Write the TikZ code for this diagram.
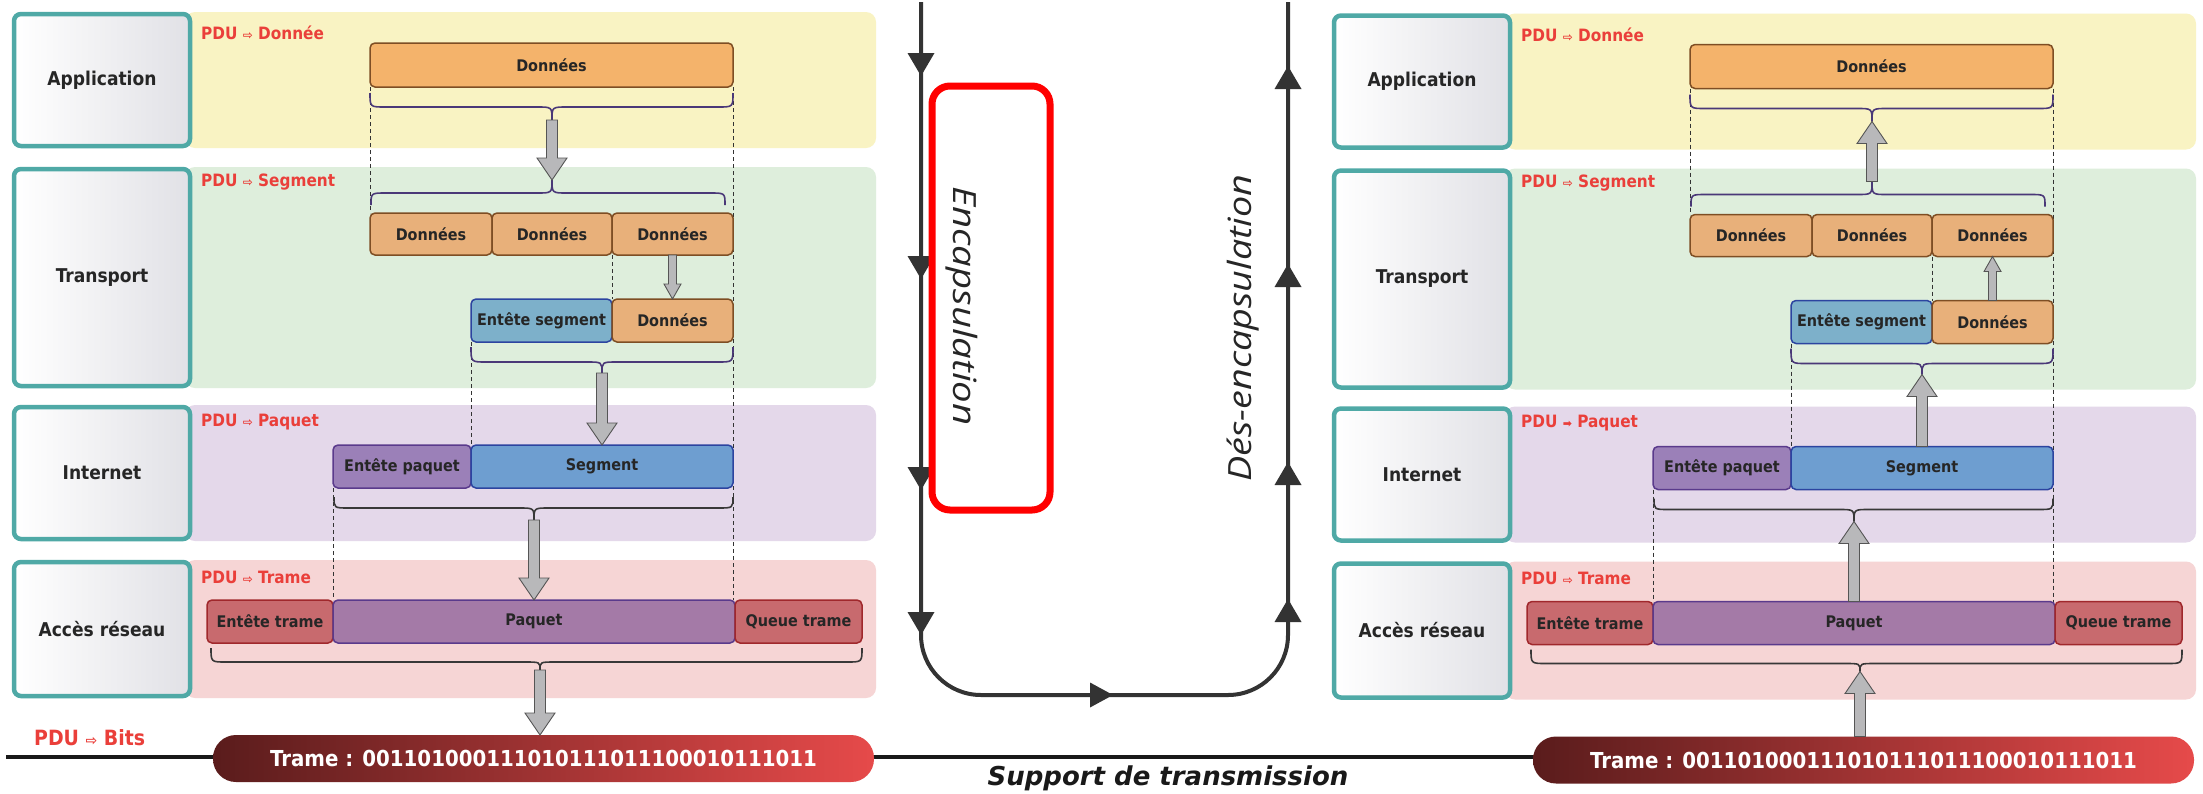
\documentclass[tikz,border=0pt]{standalone}
\usepackage{fontspec}
\usepackage{graphicx}
\usetikzlibrary{calc}
\IfFontExistsTF{DejaVu Sans Condensed}
  {\newfontfamily\cond{DejaVu Sans Condensed}}
  {\newfontfamily\cond{DejaVu Sans}[FakeStretch=0.88]}
\newfontfamily\symf{DejaVu Sans}
\newfontfamily\itf{Open Sans}
\newfontfamily\supf{DejaVu Sans}

\definecolor{bandA}{HTML}{F9F3C3}
\definecolor{bandT}{HTML}{DEEEDC}
\definecolor{bandI}{HTML}{E4D8EA}
\definecolor{bandN}{HTML}{F6D5D5}
\definecolor{teal1}{HTML}{4FA9A6}
\definecolor{lgray}{HTML}{E1E1E6}
\definecolor{pdured}{HTML}{EA3F3A}
\definecolor{orA}{HTML}{F4B36B}
\definecolor{orB}{HTML}{E8B07A}
\definecolor{orE}{HTML}{7E4E24}
\definecolor{blA}{HTML}{7DB0CA}
\definecolor{blB}{HTML}{6E9ED0}
\definecolor{blE}{HTML}{2C44A0}
\definecolor{puA}{HTML}{9B80B8}
\definecolor{puB}{HTML}{A47AA7}
\definecolor{puE}{HTML}{5A3A8C}
\definecolor{rdA}{HTML}{C86A6E}
\definecolor{rdE}{HTML}{A0282C}
\definecolor{brP}{HTML}{4A3878}
\definecolor{brG}{HTML}{383838}
\definecolor{arrF}{HTML}{B8B8BA}
\definecolor{arrE}{HTML}{555555}
\definecolor{trk}{HTML}{333333}
\definecolor{pillL}{HTML}{5A1C1C}
\definecolor{pillR}{HTML}{E64A4A}

\tikzset{
  lbox/.style={draw=teal1, line width=4.5pt, rounded corners=7pt,
    left color=white, right color=lgray, inner sep=0pt, outer sep=0pt,
    anchor=north west, text=black!85,
    font=\cond\bfseries\fontsize{19}{19}\selectfont},
  band/.style={rounded corners=10pt},
  blk/.style={rounded corners=5pt, line width=1.5pt, inner sep=0pt, outer sep=0pt,
    anchor=north west, text=black!85,
    font=\cond\bfseries\fontsize{16}{16}\selectfont},
  datA/.style={fill=orA, draw=orE},
  datB/.style={fill=orB, draw=orE},
  segH/.style={fill=blA, draw=blE},
  segB/.style={fill=blB, draw=blE},
  paqH/.style={fill=puA, draw=puE},
  paqB/.style={fill=puB, draw=puE},
  trm/.style={fill=rdA, draw=rdE},
  pdu/.style={anchor=west, text=pdured, inner sep=0pt,
    font=\cond\bfseries\fontsize{17}{17}\selectfont},
  pill/.style={rounded corners=23pt, left color=pillL, right color=pillR,
    inner sep=0pt, outer sep=0pt, anchor=north west, text=white,
    font=\cond\bfseries\fontsize{22}{22}\selectfont},
  dline/.style={line width=1pt, black!80, dash pattern=on 4pt off 3pt},
  bracepath/.style={line width=1.6pt, #1},
  track/.style={line width=4pt, trk, rounded corners=60pt},
  blockarrow/.style n args={3}{draw=arrE, fill=arrF, line width=0.9pt, line join=miter,
    to path={let \p1=(\tikztostart), \p2=(\tikztotarget),
      \n1={ifthenelse(\y2>\y1,1,-1)} in
      ({\x1-#1},\y1) -- ({\x1-#1},{\y2-\n1*#3}) -- ({\x1-#2},{\y2-\n1*#3})
      -- (\x1,\y2) -- ({\x1+#2},{\y2-\n1*#3}) -- ({\x1+#1},{\y2-\n1*#3})
      -- ({\x1+#1},\y1) -- cycle}},
  bigarrow/.style={blockarrow={5.5pt}{15pt}{22pt}},
  smallarrow/.style={blockarrow={4pt}{8.5pt}{15pt}},
  sidetext/.style={text=black!85, font=\itf\itshape\fontsize{32}{32}\selectfont}
}

% one data block: name, style, x1, y1, x2, y2, text
\newcommand\blk[7]{\node[blk,#2,minimum width={#5-#3},minimum height={#6-#4}] (#1) at (#3,#4) {#7};}
% curly brace: name of tip, colour, x1, x2, tip x, end y, middle y, tip y
\newcommand\obrace[8]{%
  \draw[bracepath=#2] (#3,#6) .. controls (#3,#7) .. ({#3+15},#7) -- ({#5-15},#7)
    .. controls (#5,#7) .. (#5,#8) .. controls (#5,#7) .. ({#5+15},#7)
    -- ({#4-15},#7) .. controls (#4,#7) .. (#4,#6);
  \coordinate (#1) at (#5,#8);}
\newcommand\pduarrow{{\symf\fontsize{12}{12}\selectfont ⇨}}
\newcommand\tridown[2]{\fill[trk] (#1,#2) -- ++(-13.5,-23) -- ++(27,0) -- cycle;}
\newcommand\triup[2]{\fill[trk] (#1,#2) -- ++(-13.5,23) -- ++(27,0) -- cycle;}

% the four-layer stack: name prefix, arrow used in the Internet label
\newcommand\osistack[2]{%
  \fill[bandA, band] (185,12) rectangle (876,148);
  \fill[bandT, band] (185,167) rectangle (876,388);
  \fill[bandI, band] (185,405) rectangle (876,541);
  \fill[bandN, band] (185,560) rectangle (876,698);
  \node[lbox, minimum width=176, minimum height=132] (#1lyA) at (14,14) {Application};
  \node[lbox, minimum width=176, minimum height=217] (#1lyT) at (14,169) {Transport};
  \node[lbox, minimum width=176, minimum height=132] (#1lyI) at (14,407) {Internet};
  \node[lbox, minimum width=176, minimum height=134] (#1lyN) at (14,562) {Accès réseau};
  \node[pdu] (#1pA) at (201,33) {PDU \pduarrow{} Donnée};
  \node[pdu] (#1pT) at (201,182) {PDU \pduarrow{} Segment};
  \node[pdu] (#1pI) at (201,422) {PDU #2 Paquet};
  \node[pdu] (#1pN) at (201,577) {PDU \pduarrow{} Trame};
  % alignment guides
  \draw[dline] (370,87) -- (370,213);
  \draw[dline] (733,87) -- (733,600);
  \draw[dline] (612,255) -- (612,299);
  \draw[dline] (471,342) -- (471,445);
  \draw[dline] (333,488) -- (333,600);
  % data units
  \blk{#1dat}{datA}{370}{43}{733}{87}{Données}
  \blk{#1d1}{datB}{370}{213}{492}{255}{Données}
  \blk{#1d2}{datB}{492}{213}{612}{255}{Données}
  \blk{#1d3}{datB}{612}{213}{733}{255}{Données}
  \blk{#1es}{segH}{471}{299}{612}{342}{Entête segment}
  \blk{#1ed}{datB}{612}{299}{733}{342}{Données}
  \blk{#1ep}{paqH}{333}{445}{471}{488}{Entête paquet}
  \blk{#1seg}{segB}{471}{445}{733}{488}{Segment}
  \blk{#1et}{trm}{207}{600}{333}{643}{Entête trame}
  \blk{#1paq}{paqB}{333}{600}{735}{643}{Paquet}
  \blk{#1qt}{trm}{735}{600}{862}{643}{Queue trame}
  % braces
  \obrace{#1bA}{brP}{370}{733}{552}{93}{107}{120}
  \obrace{#1bB}{brP}{371}{725}{552}{205}{193}{180}
  \obrace{#1bC}{brP}{471}{733}{602}{347}{362}{373}
  \obrace{#1bD}{brG}{334}{733}{534}{497}{508}{520}
  \obrace{#1bE}{brG}{211}{862}{540}{648}{662}{670}
  % frame on the medium
  \node[pill, minimum width=661, minimum height=47] (#1pill) at (213,735)
    {Trame : 001101000111010111011100010111011};
}

\begin{document}
\begin{tikzpicture}[x=1pt,y=-1pt]
  \useasboundingbox (0,0) rectangle (2203,793);
  \fill[white] (0,0) rectangle (2203,793);

  % transmission medium
  \draw[line width=4pt, black!90] (6,757) -- (1540,757);

  \osistack{L}{\pduarrow}
  \begin{scope}[xshift=1320pt, yshift=-1.5pt]
    \osistack{R}{{\symf\fontsize{11}{11}\selectfont ➡}}
  \end{scope}

  \node[pdu, font=\cond\bfseries\fontsize{21}{21}\selectfont] (bits) at (34,738)
    {PDU {\symf\fontsize{14}{14}\selectfont ⇨} Bits};

  % sending side: downward flow
  \draw[bigarrow] (LbA) to (LbB);
  \draw[smallarrow] (Ld3.south) to (Led.north);
  \draw[bigarrow] (LbC) to (Lseg.north);
  \draw[bigarrow] (LbD) to (Lpaq.north);
  \draw[bigarrow] (LbE) to (LbE |- Lpill.north);

  % receiving side: upward flow
  \draw[bigarrow] (RbB) to (RbA);
  \draw[smallarrow] (Red.north) to (Rd3.south);
  \draw[bigarrow] (Rseg.north) to (RbC);
  \draw[bigarrow] (Rpaq.north) to (RbD);
  \draw[bigarrow] (RbE |- Rpill.north) to (RbE);

  % encapsulation / de-encapsulation track
  \draw[track] (921,2) -- (921,695) -- (1288,695) -- (1288,2);
  \tridown{921}{76}  \tridown{921}{279} \tridown{921}{490} \tridown{921}{635}
  \triup{1288}{66}   \triup{1288}{264}  \triup{1288}{462}  \triup{1288}{599}
  \fill[trk] (1113,695) -- ++(-23,-12.5) -- ++(0,25) -- cycle;

  \draw[red, line width=7pt, rounded corners=18pt] (932,86) rectangle (1050,510);
  \node[rotate=-90, sidetext] (enc) at (962,306)
    {\scalebox{1.2}[1]{Encapsulation}};
  \node[rotate=90, sidetext] (dec) at (1243,328)
    {\scalebox{1.18}[1]{Dés-encapsulation}};
  \node[text=black!90, font=\supf\bfseries\itshape\fontsize{26}{26}\selectfont]
    (supp) at (1168,778) {Support de transmission};
\end{tikzpicture}
\end{document}
